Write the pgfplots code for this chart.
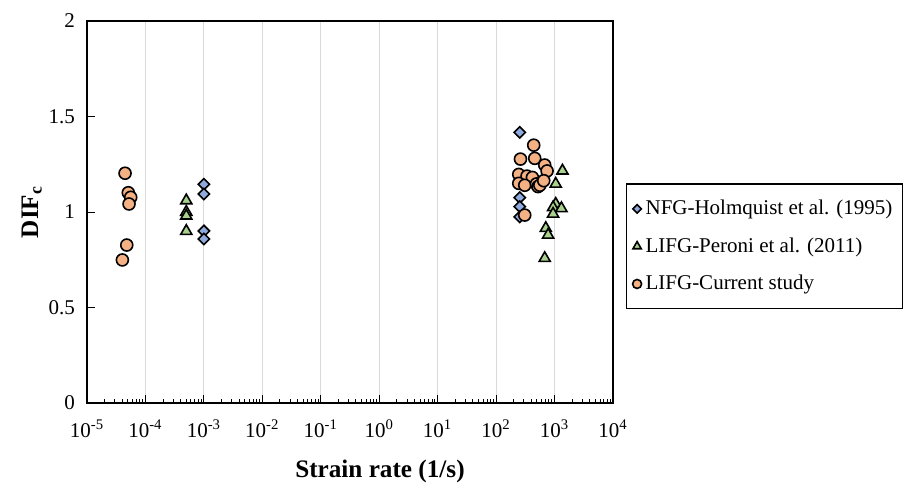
\documentclass[border=0pt]{standalone}
\usepackage{pgfplots}
\pgfplotsset{compat=1.18}
\usepackage{fontspec}
\setmainfont{Liberation Serif}
\definecolor{cblue}{HTML}{8FAADC}
\definecolor{cgreen}{HTML}{A9D18E}
\definecolor{corange}{HTML}{F4B183}
\begin{document}
\begin{tikzpicture}
\useasboundingbox (-43.5pt,-46pt) rectangle (416.5pt,201.5pt);
\begin{axis}[
  at={(0,0)}, anchor=south west,
  scale only axis, width=263pt, height=191pt,
  xmode=log, log basis x=10,
  xmin=1e-5, xmax=1e4, ymin=0, ymax=2,
  xtick={1e-5,1e-4,1e-3,1e-2,1e-1,1,1e1,1e2,1e3,1e4},
  xticklabels={10\textsuperscript{-5},10\textsuperscript{-4},10\textsuperscript{-3},10\textsuperscript{-2},10\textsuperscript{-1},10\textsuperscript{0},10\textsuperscript{1},10\textsuperscript{2},10\textsuperscript{3},10\textsuperscript{4}},
  minor xtick={2e-5,3e-5,4e-5,5e-5,6e-5,7e-5,8e-5,9e-5,
    2e-4,3e-4,4e-4,5e-4,6e-4,7e-4,8e-4,9e-4,
    2e-3,3e-3,4e-3,5e-3,6e-3,7e-3,8e-3,9e-3,
    2e-2,3e-2,4e-2,5e-2,6e-2,7e-2,8e-2,9e-2,
    2e-1,3e-1,4e-1,5e-1,6e-1,7e-1,8e-1,9e-1,
    2,3,4,5,6,7,8,9,
    20,30,40,50,60,70,80,90,
    200,300,400,500,600,700,800,900,
    2000,3000,4000,5000,6000,7000,8000,9000},
  ytick={0,0.5,1,1.5,2}, yticklabels={0,0.5,1,1.5,2},
  tick align=inside, tick pos=left,
  major tick length=4pt, minor tick length=2.2pt,
  tick style={black, line width=0.5pt},
  xmajorgrids, major grid style={color=black!15, line width=0.5pt},
  axis line style={black, line width=0.9pt},
  ticklabel style={font=\fontsize{10.5}{12}\selectfont},
  xticklabel style={yshift=-5pt},
  yticklabel style={xshift=-2.5pt},
  xlabel={\textbf{Strain rate (1/s)}},
  xlabel style={at={(axis description cs:0.557,-0.18)}, anchor=center, font=\fontsize{12.6}{14}\selectfont},
  ylabel={\textbf{DIF\textsubscript{c}}},
  ylabel style={at={(axis description cs:-0.105,0.5)}, anchor=center, rotate=0, font=\fontsize{12.6}{14}\selectfont},
  legend style={at={(1.0247,0.41)}, anchor=west, draw=black, line width=0.6pt,
    font=\fontsize{10.5}{12}\selectfont, row sep=6pt, inner ysep=6pt, inner xsep=3pt},
  legend cell align=left,
  legend image code/.code={\draw[#1, mark size=0.75*\pgfplotmarksize] plot coordinates {(0.1cm,0cm)};},
]
\addplot[only marks, mark=square*, mark size=2.0pt, mark options={rotate=45, fill=cblue, draw=black, line width=0.8pt}]
  coordinates {(1e-3,1.145) (1e-3,1.094) (1e-3,0.901) (1e-3,0.859)
  (254,1.417) (254,1.075) (254,1.028) (254,0.975)};
\addlegendentry{NFG-Holmquist et al. (1995)}
\addplot[only marks, mark=triangle*, mark size=3.2pt, mark options={fill=cgreen, draw=black, line width=0.8pt}]
  coordinates {(5e-4,1.06) (5e-4,1.00) (5e-4,0.98) (5e-4,0.90)
  (1365,1.216) (1047,1.147) (1047,1.042) (944,1.024) (1312,1.019) (944,0.99)
  (708,0.915) (776,0.88) (679,0.758)};
\addlegendentry{LIFG-Peroni et al. (2011)}
\addplot[only marks, mark=*, mark size=3.0pt, mark options={fill=corange, draw=black, line width=0.8pt}]
  coordinates {(4.48e-5,1.203) (5.09e-5,1.101) (5.6e-5,1.077) (5.24e-5,1.042) (4.79e-5,0.827) (4.03e-5,0.749)
  (440,1.35) (261,1.277) (458,1.281) (679,1.246) (745,1.215) (244,1.197) (338,1.188) (418,1.181)
  (244,1.150) (309,1.140) (490,1.147) (521,1.133) (560,1.14) (653,1.164) (309,0.984)};
\addlegendentry{LIFG-Current study}
\end{axis}
\end{tikzpicture}
\end{document}
